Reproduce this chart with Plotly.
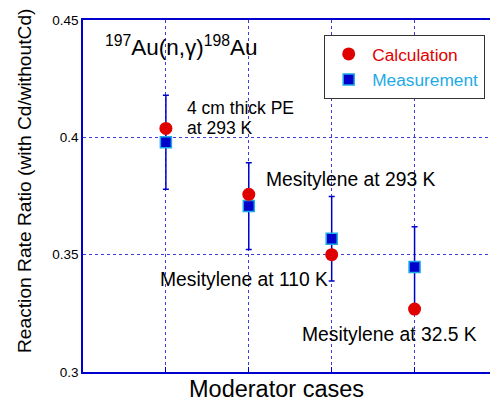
import plotly.graph_objects as go

cases = [1, 2, 3, 4]
calculation = [0.4038, 0.3757, 0.3500, 0.3268]
measurement = [0.3979, 0.3707, 0.3568, 0.3447]
meas_err = [0.0200, 0.0185, 0.0180, 0.0172]
y_ticks = [0.3, 0.35, 0.4, 0.45]
y_ticktext = ["0.3", "0.35", "0.4", "0.45"]
case_labels = ["4 cm thick PE", "at 293 K", "Mesitylene at 293 K",
               "Mesitylene at 110 K", "Mesitylene at 32.5 K"]

FONT = "Liberation Sans, Arial, sans-serif"
BLUE = "#0000cc"

# plot-area pixel geometry helpers (figure is 490x403)
L, T, PW, PH = 83, 20, 407, 352


def px(xp):
    return (xp - L) / PW


def py(yp):
    return 1 - (yp - T) / PH


fig = go.Figure()
fig.add_trace(go.Scatter(
    x=cases, y=measurement, mode="markers",
    name="<span style='color:#1eaae6'>Measurement</span>",
    marker=dict(symbol="square", size=11, color=BLUE,
                line=dict(color="#1eaae6", width=1.5)),
    error_y=dict(type="data", array=meas_err, color=BLUE, thickness=1.5, width=3),
))
fig.add_trace(go.Scatter(
    x=cases, y=calculation, mode="markers",
    name="<span style='color:#e00000'>Calculation</span>",
    marker=dict(symbol="circle", size=13, color="#e00000"),
))

label_pos = [(1.23, 0.4125, 17.5), (1.23, 0.4040, 17.5), (2.18, 0.3822, 19.3),
             (0.903, 0.3395, 19.3), (2.615, 0.3161, 19.3)]
for txt, (lx, ly, fs) in zip(case_labels, label_pos):
    fig.add_annotation(x=lx, y=ly, text=txt, showarrow=False, xanchor="left",
                       yanchor="middle", align="left",
                       font=dict(family=FONT, size=fs, color="black"))

fig.add_annotation(x=px(103), y=py(46), xref="paper", yref="paper", showarrow=False,
                   xanchor="left", yanchor="middle",
                   text="<sup>197</sup>Au(n,γ)<sup>198</sup>Au",
                   font=dict(family=FONT, size=22.5, color="black"))
fig.add_annotation(x=px(276), y=py(389), xref="paper", yref="paper", showarrow=False,
                   xanchor="center", yanchor="middle", text="Moderator cases",
                   font=dict(family=FONT, size=23.5, color="black"))
fig.add_annotation(x=px(24), y=py(181), xref="paper", yref="paper", showarrow=False,
                   xanchor="center", yanchor="middle", textangle=-90,
                   text="Reaction Rate Ratio (with Cd/withoutCd)",
                   font=dict(family=FONT, size=19.2, color="black"))

fig.update_layout(
    width=490, height=403,
    margin=dict(l=L, r=0, t=T, b=403 - T - PH),
    plot_bgcolor="white", paper_bgcolor="white",
    font=dict(family=FONT, color="black"),
    legend=dict(x=px(324), y=py(35), xanchor="left", yanchor="top",
                bordercolor="#333333", borderwidth=1.2, bgcolor="white",
                traceorder="reversed", itemwidth=37, tracegroupgap=0,
                font=dict(family=FONT, size=17.3)),
    showlegend=True,
)
fig.update_xaxes(
    range=[0, 4.91], showticklabels=False, ticks="inside", ticklen=5,
    tickcolor=BLUE, tickvals=cases,
    showgrid=True, gridcolor="#3c3cdc", griddash="dot", gridwidth=1,
    showline=True, linecolor=BLUE, linewidth=1.5, mirror=True,
    zeroline=False,
)
fig.update_yaxes(
    range=[0.3, 0.45], tickvals=y_ticks, ticktext=y_ticktext,
    tickfont=dict(family=FONT, size=13.5, color="black"), ticks="",
    showgrid=True, gridcolor="#3c3cdc", griddash="dot", gridwidth=1,
    showline=True, linecolor=BLUE, linewidth=1.5, zeroline=False,
)

fig.write_html("out.html")
